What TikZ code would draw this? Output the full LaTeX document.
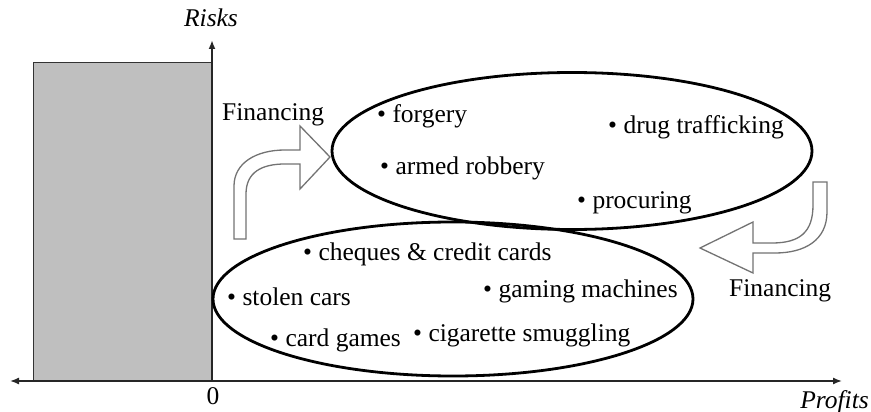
\documentclass[tikz,border=0pt]{standalone}
\usepackage{fontspec}
\setmainfont{Liberation Serif}
\usetikzlibrary{arrows.meta,shapes.geometric}
\begin{document}
\begin{tikzpicture}[x=1pt,y=-1pt,
  lbl/.style={anchor=base west, inner sep=0pt, font=\fontsize{25.5}{30}\selectfont},
  ctr/.style={anchor=base, inner sep=0pt, font=\fontsize{25.5}{30}\selectfont},
  ell/.style={draw=black, line width=2.8pt, ellipse, inner sep=0pt},
  hollow/.style={draw=black!55, line width=1.3pt, fill=white, line join=miter},
  axisline/.style={draw=black!85, line width=1.4pt},
  tip/.style={-{Latex[length=9pt,width=7pt]}}]
\useasboundingbox (0,0) rectangle (871,412);
% shaded block
\draw[draw=black!80, fill=black!25, line width=1pt] (33,63) rectangle (211,381);
% axes
\coordinate (O) at (212,381);
\coordinate (ytop) at (212,40);
\coordinate (xl) at (10,381);
\coordinate (xr) at (842,381);
\draw[axisline, tip, line width=2.2pt] (O) -- (ytop);
\draw[axisline, {Latex[length=9pt,width=7pt]}-{Latex[length=9pt,width=7pt]}] (xl) -- (xr);
\node[ctr, font=\fontsize{25.5}{30}\selectfont\itshape] (risks) at (211,27) {Risks};
\node[ctr] (zero) at (213,404) {0};
\node[anchor=base east, inner sep=0pt, font=\fontsize{25.5}{30}\selectfont\itshape] (profits) at (869,408) {Profits};
% ellipses
\node[ell, minimum width=480pt, minimum height=157pt] (upper) at (572,151) {};
\node[ell, minimum width=480pt, minimum height=154pt] (lower) at (453,299) {};
% hollow arrows
\draw[hollow] (234,239) -- (234,186) .. controls (234,163) and (256,150) .. (285,150)
  -- (300,150) -- (300,126) -- (330,157) -- (300,189) -- (300,164) -- (285,164)
  .. controls (262,164) and (246,172) .. (246,194) -- (246,239) -- cycle;
\draw[hollow] (813,182) -- (827,182) -- (827,212) .. controls (827,240) and (805,253) .. (775,253)
  -- (753,253) -- (753,273) -- (700,248) -- (753,222) -- (753,243) -- (772,243)
  .. controls (800,243) and (813,232) .. (813,205) -- cycle;
\node[lbl] (fin1) at (222,121) {Financing};
\node[lbl] (fin2) at (729,296) {Financing};
% upper items
\node[lbl] (forgery) at (377,122) {• forgery};
\node[lbl] (drug) at (608,133) {• drug trafficking};
\node[lbl] (armed) at (380,174) {• armed robbery};
\node[lbl] (procuring) at (577,208) {• procuring};
% lower items
\node[lbl] (cheques) at (303,260) {• cheques \& credit cards};
\node[lbl] (stolen) at (227,305) {• stolen cars};
\node[lbl] (gaming) at (483,297) {• gaming machines};
\node[lbl] (cardgames) at (270,346) {• card games};
\node[lbl] (cigarette) at (413,341) {• cigarette smuggling};
\end{tikzpicture}
\end{document}
